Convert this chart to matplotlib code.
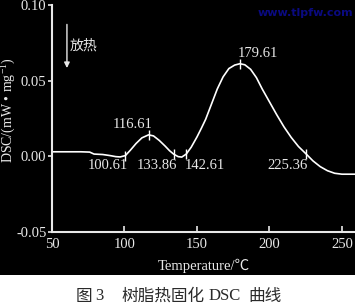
import matplotlib
matplotlib.use("Agg")
import matplotlib.pyplot as plt
from matplotlib.patches import Rectangle

plt.rcParams["mathtext.fontset"] = "custom"
plt.rcParams["mathtext.rm"] = "Liberation Serif"
plt.rcParams["mathtext.it"] = "Liberation Serif:italic"

temps = [50, 60, 70, 76, 79, 85, 90, 94, 97, 100.61, 104, 108, 112, 116.61, 120,
         124, 128, 131, 133.86, 137, 139.5, 142.61, 146, 150, 153, 156, 160, 164,
         168, 172, 176, 179.61, 183, 187, 191, 195, 200, 205, 210, 215, 220,
         225.36, 230, 235, 240, 245, 250, 255, 260]
dsc = [0.003, 0.003, 0.003, 0.0028, 0.0015, 0.0012, 0.0005, -0.0002, -0.0004,
       0.0005, 0.004, 0.0085, 0.0122, 0.0142, 0.0135, 0.0105, 0.0068, 0.0038,
       0.0015, -0.0002, -0.0005, 0.0015, 0.006, 0.0128, 0.0185, 0.0245, 0.0345,
       0.0445, 0.0525, 0.058, 0.0603, 0.0612, 0.0605, 0.0575, 0.052, 0.0445,
       0.036, 0.0275, 0.0195, 0.0125, 0.0065, 0.0015, -0.003, -0.0068, -0.0095,
       -0.0112, -0.0118, -0.0118, -0.0118]

marked_t = [100.61, 116.61, 133.86, 142.61, 179.61, 225.36]

xticks = [50, 100, 150, 200, 250]
yticks = [-0.05, 0.00, 0.05, 0.10]
ytick_labels = ["-0.05", "0.00", "0.05", "0.10"]

serif = ["Liberation Serif", "DejaVu Serif"]
mixed = ["Liberation Serif", "Noto Sans CJK SC"]
cjk = ["Noto Sans CJK SC", "DejaVu Sans"]
fg = "#e8e8e8"

fig = plt.figure(figsize=(3.55, 3.04), dpi=100, facecolor="white")
fig.patches.append(Rectangle((0, 29 / 304), 1, 1, transform=fig.transFigure,
                             facecolor="black", edgecolor="none", zorder=-10))

ax = fig.add_axes([52 / 355, 72 / 304, 1 - 52 / 355, (232 - 5) / 304])
ax.set_zorder(5)
ax.patch.set_alpha(0)

ax.plot(temps, dsc, color="white", lw=1.2)
mk_y = [dsc[temps.index(t)] for t in marked_t]
ax.plot(marked_t, mk_y, linestyle="none", marker="|", markersize=7,
        markeredgewidth=1.0, color="white")

ax.set_xlim(50, 259)
ax.set_ylim(-0.05, 0.10)

for s in ["top", "right"]:
    ax.spines[s].set_visible(False)
for s in ["left", "bottom"]:
    ax.spines[s].set_color(fg)
    ax.spines[s].set_linewidth(1.5)

ax.set_xticks(xticks)
ax.set_xticklabels([str(v) for v in xticks], family=serif, fontsize=10.5, color=fg)
ax.set_yticks(yticks)
ax.set_yticklabels(ytick_labels, family=serif, fontsize=10.5, color=fg)
ax.tick_params(axis="x", direction="in", length=4, width=1.2, color=fg, pad=4)
ax.tick_params(axis="y", direction="out", length=3, width=1.2, color=fg, pad=1)

lab_kw = dict(family=serif, fontsize=10.5, color=fg, va="center")
ax.text(102.4, -0.006, "100.61", ha="right", **lab_kw)
ax.text(136.2, -0.006, "133.86", ha="right", **lab_kw)
ax.text(141.7, -0.006, "142.61", ha="left", **lab_kw)
ax.text(226.6, -0.006, "225.36", ha="right", **lab_kw)
ax.text(105.6, 0.021, "116.61", ha="center", **lab_kw)
ax.text(191.7, 0.068, "179.61", ha="center", **lab_kw)

ax.annotate("", xy=(60.3, 0.0565), xytext=(60.3, 0.089),
            arrowprops=dict(arrowstyle="-|>", color=fg, lw=1.0,
                            mutation_scale=8))
ax.text(62.3, 0.073, "放热", family=cjk, fontsize=10, color=fg,
        ha="left", va="center")

fig.text(9 / 355, 1 - 110 / 304, r"DSC/(mW • mg$^{-1}$)", rotation=90,
         family=serif, fontsize=10, color=fg, ha="center", va="center")
fig.text(204 / 355, 1 - 266 / 304, "Temperature/℃",
         family=mixed, fontsize=10.5, color=fg, ha="center", va="center")
fig.text(305 / 355, 1 - 13 / 304, "www.tlpfw.com", family=["DejaVu Sans"],
         fontsize=8, fontweight="bold", color="#0a0a80", ha="center",
         va="center")

cap_y = 1 - 296 / 304
cap_kw = dict(fontsize=12, color="#2a2a2a", ha="left", va="center")
fig.text(76 / 355, cap_y, "图", family=cjk, **cap_kw)
fig.text(95 / 355, cap_y, "3", family=serif, **cap_kw)
fig.text(121 / 355, cap_y, "树脂热固化", family=cjk, **cap_kw)
fig.text(209 / 355, cap_y, "DSC", family=serif, **cap_kw)
fig.text(248 / 355, cap_y, "曲线", family=cjk, **cap_kw)

fig.savefig("out.png", dpi=100, facecolor=fig.get_facecolor())
